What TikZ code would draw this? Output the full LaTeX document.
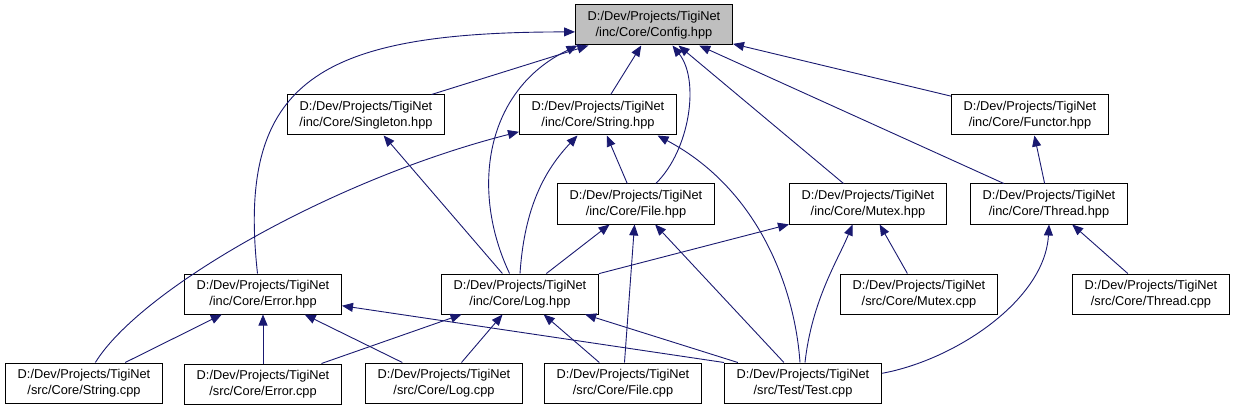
\documentclass[tikz,border=0pt]{standalone}
\usepackage{fontspec}
\setmainfont{Liberation Sans}
\usepackage{tikz}
\usetikzlibrary{positioning,arrows.meta}
\definecolor{edgecol}{HTML}{191970}
\definecolor{rootfill}{HTML}{BFBFBF}
\tikzset{
  filebox/.style={draw=black, fill=white, line width=1pt,
                  minimum width=157pt, minimum height=40pt, inner sep=0pt,
                  align=center, font=\fontsize{12.8}{16}\selectfont},
  rootbox/.style={filebox, fill=rootfill},
  incarrow/.style={draw=edgecol, line width=0.9pt,
                   -{Triangle[length=11pt,width=9pt]}}
}

\begin{document}
\begin{tikzpicture}[x=1pt,y=-1pt]
  \useasboundingbox (0,0) rectangle (1235,409);

  % --- root header ---
  \node[rootbox] (cfg) at (654,25) {D:/Dev/Projects/TigiNet\\/inc/Core/Config.hpp};

  % --- headers, first row ---
  \node[filebox] (sgl) at (366,115) {D:/Dev/Projects/TigiNet\\/inc/Core/Singleton.hpp};
  \node[filebox] (str) at (598,115) {D:/Dev/Projects/TigiNet\\/inc/Core/String.hpp};
  \node[filebox] (fun) at (1030,115) {D:/Dev/Projects/TigiNet\\/inc/Core/Functor.hpp};

  % --- headers, second row ---
  \node[filebox] (file) at (636,204) {D:/Dev/Projects/TigiNet\\/inc/Core/File.hpp};
  \node[filebox] (mtx) at (868,204) {D:/Dev/Projects/TigiNet\\/inc/Core/Mutex.hpp};
  \node[filebox] (thr) at (1049,204) {D:/Dev/Projects/TigiNet\\/inc/Core/Thread.hpp};

  % --- third row ---
  \node[filebox] (err) at (263,294) {D:/Dev/Projects/TigiNet\\/inc/Core/Error.hpp};
  \node[filebox] (log) at (520,294) {D:/Dev/Projects/TigiNet\\/inc/Core/Log.hpp};
  \node[filebox] (mtxcpp) at (919,294) {D:/Dev/Projects/TigiNet\\/src/Core/Mutex.cpp};
  \node[filebox] (thrcpp) at (1151,294) {D:/Dev/Projects/TigiNet\\/src/Core/Thread.cpp};

  % --- sources ---
  \node[filebox] (strcpp) at (84,383) {D:/Dev/Projects/TigiNet\\/src/Core/String.cpp};
  \node[filebox, below=49pt of err] (errcpp) {D:/Dev/Projects/TigiNet\\/src/Core/Error.cpp};
  \node[filebox] (logcpp) at (444,383) {D:/Dev/Projects/TigiNet\\/src/Core/Log.cpp};
  \node[filebox] (filecpp) at (623,383) {D:/Dev/Projects/TigiNet\\/src/Core/File.cpp};
  \node[filebox] (tst) at (803,383) {D:/Dev/Projects/TigiNet\\/src/Test/Test.cpp};

  % --- includes of Config.hpp ---
  \draw[incarrow] (err.105) .. controls (236,80) and (320,32) .. (cfg.185);
  \draw[incarrow] (sgl) -- (cfg);
  \draw[incarrow] (str) -- (cfg);
  \draw[incarrow] (log.117) .. controls (470,190) and (485,90) .. (cfg.195);
  \draw[incarrow] (file.46) .. controls (690,150) and (700,80) .. (cfg.312);
  \draw[incarrow] (mtx) -- (cfg);
  \draw[incarrow] (thr) -- (cfg);
  \draw[incarrow] (fun) -- (cfg);

  % --- includes of String.hpp / Singleton.hpp ---
  \draw[incarrow] (strcpp.61) .. controls (140,290) and (330,180) .. (str.192);
  \draw[incarrow] (log.north) .. controls (524,215) and (540,175) .. (str.225);
  \draw[incarrow] (file) -- (str);
  \draw[incarrow] ([xshift=-3pt]tst.north) .. controls (795,290) and (760,190) .. (str.341);
  \draw[incarrow] (log) -- (sgl);

  % --- includes of File.hpp / Mutex.hpp / Thread.hpp ---
  \draw[incarrow] (log) -- (file);
  \draw[incarrow] (filecpp) -- (file);
  \draw[incarrow] (tst) -- (file);
  \draw[incarrow] (log) -- (mtx);
  \draw[incarrow] ([xshift=2pt]tst.north) .. controls (812,300) and (838,260) .. (mtx.233);
  \draw[incarrow] (mtxcpp) -- (mtx);
  \draw[incarrow] (thr) -- (fun);
  \draw[incarrow] (tst.7) .. controls (955,360) and (1045,300) .. (thr.south);
  \draw[incarrow] (thrcpp) -- (thr);

  % --- includes of Error.hpp / Log.hpp ---
  \draw[incarrow] (strcpp) -- (err);
  \draw[incarrow] (errcpp) -- (err);
  \draw[incarrow] (logcpp) -- (err);
  \draw[incarrow] (tst.north west) -- (err);
  \draw[incarrow] (errcpp) -- (log);
  \draw[incarrow] (logcpp) -- (log);
  \draw[incarrow] (filecpp) -- (log);
  \draw[incarrow] (tst) -- (log);

\end{tikzpicture}
\end{document}
